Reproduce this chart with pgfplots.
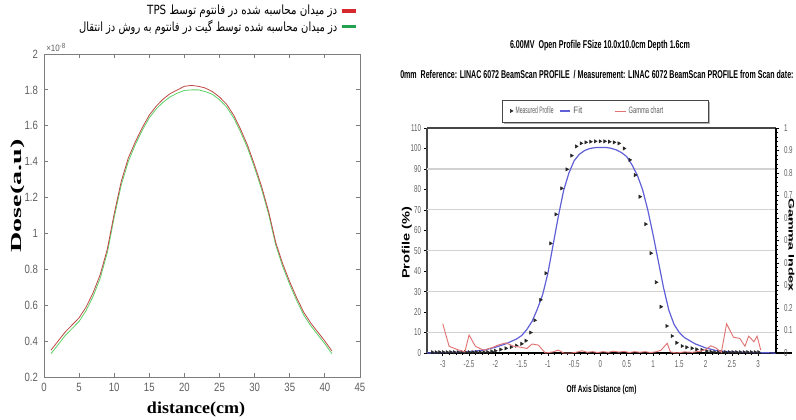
\documentclass[border=0pt]{standalone}
\usepackage{pgfplots}
\pgfplotsset{compat=1.18}
\usepackage{pgfplotstable}
\usepackage{graphicx}
\usepackage{fontspec}
\setmainfont{Liberation Sans}
\newfontfamily\serifbf{Liberation Serif}
\newfontfamily\arabicfont[Script=Arabic]{DejaVu Sans}
\TeXXeTstate=1

\definecolor{tpsred}{RGB}{190,70,70}
\definecolor{gategreen}{RGB}{90,210,100}
\definecolor{legred}{RGB}{215,40,45}
\definecolor{leggreen}{RGB}{35,160,80}
\definecolor{fitblue}{RGB}{95,95,215}
\definecolor{gampink}{RGB}{225,115,115}
\definecolor{ticktxt}{RGB}{95,95,95}
\definecolor{matgray}{RGB}{125,125,125}
\definecolor{boxgray}{RGB}{70,70,70}

% dose profiles along the phantom (units of 1e-8)
\pgfplotstableread{
x    tps    gate
1    0.350  0.330
2    0.400  0.380
3    0.450  0.430
4    0.490  0.470
5    0.530  0.510
6    0.590  0.570
7    0.670  0.650
8    0.770  0.750
9    0.910  0.890
10   1.110  1.090
11   1.290  1.270
12   1.420  1.400
13   1.510  1.495
14   1.590  1.575
15   1.660  1.645
16   1.710  1.695
17   1.750  1.733
18   1.780  1.762
19   1.800  1.782
20   1.820  1.797
21   1.825  1.800
22   1.820  1.800
23   1.810  1.790
24   1.790  1.775
25   1.760  1.745
26   1.720  1.705
27   1.660  1.645
28   1.580  1.565
29   1.490  1.475
30   1.380  1.365
31   1.260  1.245
32   1.120  1.105
33   0.950  0.935
34   0.830  0.815
35   0.730  0.715
36   0.640  0.625
37   0.560  0.545
38   0.500  0.485
39   0.450  0.435
40   0.400  0.385
41   0.345  0.330
}\dosetable

% fitted beam profile (%)
\pgfplotstableread{
x      y
-3.30  0.0
-3.00  0.2
-2.50  0.6
-2.20  1.5
-2.00  2.8
-1.80  4.5
-1.60  6.8
-1.50  8.5
-1.40  11.5
-1.30  15.5
-1.20  21.5
-1.10  28.5
-1.00  39.0
-0.90  53.0
-0.80  67.0
-0.70  79.5
-0.60  88.0
-0.50  94.0
-0.40  97.2
-0.30  99.0
-0.20  100.0
-0.10  100.4
0.00   100.5
0.10   100.5
0.20   100.1
0.30   99.3
0.40   98.0
0.50   96.0
0.60   92.0
0.70   87.0
0.80   80.0
0.90   70.0
1.00   58.0
1.10   45.0
1.20   32.0
1.30   21.0
1.40   14.0
1.50   10.0
1.60   7.5
1.80   4.5
2.00   2.5
2.20   1.2
2.50   0.5
3.00   0.2
3.34   0.0
}\fittable

% measured profile points (%)
\pgfplotstableread{
x      y
-3.20  0.4
-3.13  0.4
-3.06  0.4
-2.99  0.4
-2.92  0.4
-2.85  0.4
-2.78  0.4
-2.71  0.4
-2.64  0.4
-2.57  0.4
-2.50  0.4
-2.43  0.4
-2.36  0.4
-2.29  0.4
-2.22  0.4
-2.15  0.5
-2.07  0.8
-2.00  1.1
-1.90  1.7
-1.80  2.3
-1.70  2.9
-1.60  3.6
-1.50  4.5
-1.42  6.0
-1.33  10.0
-1.25  16.0
-1.14  26.0
-1.04  39.0
-0.95  53.6
-0.85  67.8
-0.74  80.5
-0.64  89.8
-0.55  96.5
-0.46  101.0
-0.37  102.5
-0.28  103.0
-0.19  103.3
-0.10  103.5
-0.01  103.5
0.08   103.5
0.17   103.3
0.26   103.0
0.35   102.5
0.45   100.0
0.56   94.4
0.66   87.0
0.75   76.4
0.86   63.0
0.96   48.8
1.06   34.6
1.15   22.6
1.26   13.2
1.36   8.3
1.45   5.0
1.55   3.4
1.64   2.8
1.74   2.3
1.83   1.8
1.93   1.5
2.02   1.0
2.10   0.6
2.17   0.4
2.24   0.4
2.31   0.4
2.38   0.4
2.45   0.4
2.52   0.4
2.59   0.4
2.66   0.4
2.73   0.4
2.80   0.4
2.87   0.4
2.94   0.4
3.01   0.4
}\meastable

% gamma index along the profile
\pgfplotstableread{
x      g
-3.00  0.130
-2.88  0.030
-2.72  0.015
-2.58  0.005
-2.50  0.080
-2.38  0.030
-2.22  0.012
-2.05  0.025
-1.95  0.035
-1.80  0.045
-1.65  0.030
-1.50  0.025
-1.40  0.020
-1.30  0.040
-1.18  0.035
-1.05  0.000
-0.90  0.005
-0.80  0.013
-0.70  0.000
-0.55  0.000
-0.45  0.004
-0.35  0.010
-0.25  0.003
-0.15  0.006
-0.05  0.002
0.05   0.006
0.15   0.003
0.25   0.008
0.35   0.004
0.45   0.007
0.55   0.002
0.65   0.006
0.75   0.003
0.85   0.006
0.95   0.002
1.05   0.005
1.15   0.012
1.27   0.043
1.33   0.005
1.45   0.000
1.60   0.005
1.75   0.003
1.90   0.008
2.00   0.015
2.10   0.032
2.20   0.022
2.30   0.003
2.40   0.130
2.53   0.070
2.65   0.065
2.75   0.030
2.82   0.075
2.92   0.050
2.98   0.075
3.05   0.013
}\gammatable

\begin{document}
\begin{tikzpicture}
\useasboundingbox (0,0) rectangle (597pt,314.25pt);

%================ left panel: dose along the phantom ================
\begin{axis}[
  at={(33pt,31.5pt)}, anchor=south west,
  scale only axis, width=237pt, height=242.25pt,
  xmin=0, xmax=45, ymin=0.2, ymax=2,
  xtick={0,5,10,15,20,25,30,35,40,45},
  ytick={0.2,0.4,0.6,0.8,1,1.2,1.4,1.6,1.8,2},
  tick align=inside,
  axis line style={matgray, line width=0.6pt},
  tick style={matgray, line width=0.6pt},
  major tick length=3pt,
  /pgf/number format/assume math mode=true,
  /pgf/number format/fixed,
  xticklabel={\scalebox{0.8}[1]{\pgfmathprintnumber{\tick}}},
  yticklabel={\scalebox{0.8}[1]{\pgfmathprintnumber{\tick}}},
  tick label style={font=\fontsize{9pt}{10pt}\selectfont, text=ticktxt},
  xticklabel style={yshift=-1pt},
  yticklabel style={xshift=-1pt},
  xlabel={\resizebox{73.5pt}{\height}{\fontsize{12.5pt}{14pt}\serifbf\bfseries distance(cm)}},
  xlabel style={at={(axis description cs:0.481,-0.102)}, anchor=center},
  ylabel={\resizebox{84.75pt}{\height}{\fontsize{11.5pt}{13pt}\serifbf\bfseries Dose(a.u)}},
  ylabel style={at={(axis description cs:-0.083,0.56)}, anchor=center},
  legend style={at={(axis description cs:0.998,1.165)}, anchor=north east,
    draw=none, fill=none, row sep=-1.5pt, inner sep=1pt},
  legend cell align=right, legend plot pos=right,
  legend image code/.code={\draw[#1] (0cm,0cm) -- (0.38cm,0cm);},
]
\addlegendimage{legred, line width=2.6pt}
\addlegendentry{\resizebox{142.5pt}{\height}{\fontsize{9.5pt}{11pt}\arabicfont\beginR دز میدان محاسبه شده در فانتوم توسط \beginL TPS\endL\endR}}
\addlegendimage{leggreen, line width=2.6pt}
\addlegendentry{\resizebox{193.5pt}{\height}{\fontsize{9.5pt}{11pt}\arabicfont\beginR دز میدان محاسبه شده توسط گیت در فانتوم به روش دز انتقال\endR}}
\addplot[gategreen, line width=0.6pt, forget plot] table[x=x, y=gate] {\dosetable};
\addplot[tpsred, line width=0.6pt, forget plot] table[x=x, y=tps] {\dosetable};
\end{axis}

\begin{scope}[x=0.75pt, y=-0.75pt, yshift=314.25pt]
\node[anchor=south west, inner sep=0pt, text=ticktxt,
      font=\fontsize{7pt}{8pt}\selectfont] at (46,52)
      {\scalebox{0.85}[1]{×10\raisebox{0.6ex}{\fontsize{5.5pt}{6pt}\selectfont -8}}};

% right panel headings
\node[anchor=center, inner sep=0pt] at (600,46)
  {\resizebox{135pt}{\height}{\fontsize{8.5pt}{10pt}\selectfont\bfseries 6.00MV\ \ Open Profile FSize 10.0x10.0cm Depth 1.6cm}};
\node[anchor=west, inner sep=0pt] at (400,75)
  {\resizebox{295pt}{\height}{\fontsize{8.5pt}{10pt}\selectfont\bfseries 0mm\ \ Reference: LINAC 6072 BeamScan PROFILE\ \ / Measurement: LINAC 6072 BeamScan PROFILE from Scan date:}};

% legend frame with shadow
\fill[gray!60] (504,102) rectangle (710,124);
\filldraw[fill=white, draw=boxgray, line width=0.6pt] (502,100) rectangle (708,122);
\end{scope}

%================ right panel: beam profile comparison ================
\begin{axis}[
  at={(320.25pt,49.5pt)}, anchor=south west,
  scale only axis, width=261.75pt, height=168.75pt,
  xmin=-3.3, xmax=3.34, ymin=0, ymax=110,
  axis y line*=left, axis x line*=bottom,
  xtick={-3,-2.5,-2,-1.5,-1,-0.5,0,0.5,1,1.5,2,2.5,3},
  minor x tick num=3,
  ytick={0,10,20,30,40,50,60,70,80,90,100,110},
  extra y ticks={10,30,50,70,90},
  extra y tick labels={},
  extra y tick style={grid=major, major tick length=0pt},
  grid style={gray!35, line width=0.9pt},
  x axis line style={black, line width=1pt, -},
  y axis line style={boxgray, line width=1pt, -},
  xtick style={black, line width=0.5pt},
  ytick style={black, line width=0.4pt},
  tick align=outside, major tick length=2pt, minor tick length=1.5pt,
  /pgf/number format/assume math mode=true,
  /pgf/number format/fixed,
  xticklabel={\scalebox{0.62}[1]{\pgfmathprintnumber{\tick}}},
  yticklabel={\scalebox{0.62}[1]{\pgfmathprintnumber{\tick}}},
  tick label style={font=\fontsize{7.5pt}{8pt}\selectfont, text=ticktxt},
  yticklabel style={xshift=1pt},
  xlabel={\resizebox{52.5pt}{\height}{\fontsize{7.5pt}{8pt}\selectfont\bfseries Off Axis Distance (cm)}},
  xlabel style={at={(axis description cs:0.5,-0.165)}, anchor=center},
  ylabel={\resizebox{54pt}{\height}{\fontsize{8pt}{9pt}\selectfont\bfseries Profile (\%)}},
  ylabel style={at={(axis description cs:-0.058,0.49)}, anchor=center},
  clip=false,
]
\draw[boxgray, line width=1pt] (axis cs:-3.3,110) -- (axis cs:3.34,110);
\draw[black, line width=1pt] (axis cs:3.34,0) -- (axis cs:3.64,0);
\addplot[fitblue, line width=0.9pt] table[x=x, y=y] {\fittable};
\addplot[only marks, mark=triangle*, mark size=1.35pt,
  mark options={rotate=-90, fill=black!85, draw=black!85}]
  table[x=x, y=y] {\meastable};
\end{axis}

\begin{axis}[
  at={(320.25pt,49.5pt)}, anchor=south west,
  scale only axis, width=261.75pt, height=168.75pt,
  xmin=-3.3, xmax=3.34, ymin=0, ymax=1,
  axis x line=none, axis y line*=right,
  ytick={0,0.1,0.2,0.3,0.4,0.5,0.6,0.7,0.8,0.9,1},
  minor y tick num=4,
  y axis line style={black, line width=1pt, -},
  ytick style={black, line width=0.5pt},
  minor tick length=1.5pt, major tick length=2.5pt,
  tick align=outside,
  /pgf/number format/assume math mode=true,
  /pgf/number format/fixed,
  yticklabel={\scalebox{0.62}[1]{\pgfmathprintnumber{\tick}}},
  tick label style={font=\fontsize{7.5pt}{8pt}\selectfont, text=ticktxt},
  ylabel={\resizebox{70pt}{\height}{\fontsize{6pt}{7pt}\selectfont\bfseries Gamma Index}},
  ylabel style={at={(axis description cs:1.044,0.48)}, anchor=center, rotate=180},
  legend style={at={(axis description cs:0.238,1.0756)}, anchor=west,
    draw=none, fill=none, inner sep=0pt,
    font=\fontsize{7pt}{8pt}\selectfont, text=ticktxt,
    /tikz/column 2/.style={column sep=2pt},
    /tikz/column 4/.style={column sep=22pt}},
  legend columns=3,
  legend image code/.code={\draw[mark repeat=2, mark phase=2, #1]
    plot coordinates {(0cm,0cm) (0.14cm,0cm) (0.28cm,0cm)};},
]
\addlegendimage{only marks, mark=triangle*, mark size=1.3pt,
  mark options={rotate=-90, fill=black!85, draw=black!85}}
\addlegendentry{\resizebox{28.5pt}{\height}{Measured Profile}}
\addlegendimage{fitblue, line width=0.9pt}
\addlegendentry{\resizebox{6.75pt}{\height}{Fit}}
\addplot[gampink, line width=0.7pt] table[x=x, y=g] {\gammatable};
\addlegendentry{\resizebox{26pt}{\height}{Gamma chart}}
\end{axis}
\end{tikzpicture}
\end{document}
